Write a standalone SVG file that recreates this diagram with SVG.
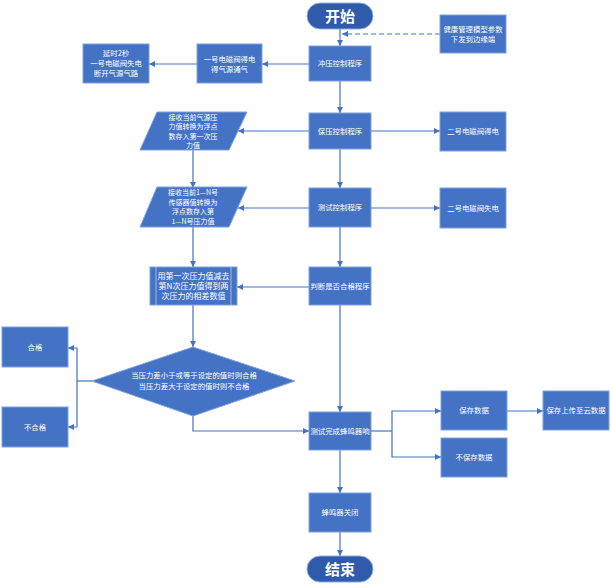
<svg xmlns="http://www.w3.org/2000/svg" width="612" height="585" viewBox="0 0 612 585">
<defs>
<marker id="ah" viewBox="0 0 10 10" refX="10" refY="5" markerWidth="6" markerHeight="6" markerUnits="userSpaceOnUse" orient="auto">
<path d="M0,0 L10,5 L0,10 z" fill="#4472C4"/>
</marker>
</defs>
<style>
.b{fill:#4472C4;stroke:#7fa1dc;stroke-width:1}
.t{fill:#2F5BAA;stroke:#8FAADC;stroke-width:1}
.c{fill:none;stroke:#4472C4;stroke-width:1.2;marker-end:url(#ah)}
.d{stroke-dasharray:5,3}
text{font-family:"Noto Sans CJK SC","Noto Sans",sans-serif;fill:#fff;text-anchor:middle}
.s{font-size:7.4px}
.m{font-size:8px}
.p{font-size:7px}
.L{font-size:15px;font-weight:bold}
</style>
<rect width="612" height="585" fill="#fff"/>
<g id="connectors">
<path class="c d" d="M440,34 H342"/>
<path class="c" d="M340,29 V46"/>
<path class="c" d="M309,64 H262"/>
<path class="c" d="M197,64 H149"/>
<path class="c" d="M340,81 V113"/>
<path class="c" d="M371,131 H440"/>
<path class="c" d="M309,131 H238"/>
<path class="c" d="M193,150 V188"/>
<path class="c" d="M340,149 V188"/>
<path class="c" d="M371,208 H440"/>
<path class="c" d="M309,208 H238"/>
<path class="c" d="M193,227 V267"/>
<path class="c" d="M340,227 V267"/>
<path class="c" d="M309,287 H237"/>
<path class="c" d="M193,305 V347"/>
<path fill="none" stroke="#4472C4" stroke-width="1.2" d="M92,381 H77"/>
<path class="c" d="M77,381 V348 H68"/>
<path class="c" d="M77,381 V427 H68"/>
<path class="c" d="M193,416 V431 H309"/>
<path class="c" d="M340,305 V412"/>
<path fill="none" stroke="#4472C4" stroke-width="1.2" d="M371,431 H392"/>
<path class="c" d="M392,431 V411 H441"/>
<path class="c" d="M392,431 V457 H441"/>
<path class="c" d="M507,411 H543"/>
<path class="c" d="M340,450 V493"/>
<path class="c" d="M340,532 V556"/>
</g>
<g id="start"><rect class="t" x="307" y="3" width="66" height="26" rx="13"/><text class="L" x="340" y="21.5">开始</text></g>
<g id="health"><rect class="b" x="440" y="15" width="66" height="38"/><text class="s" x="473" y="32">健康管理模型参数</text><text class="s" x="473" y="42">下发到边缘端</text></g>
<g id="chongya"><rect class="b" x="309" y="46" width="62" height="35"/><text class="s" x="340" y="66">冲压控制程序</text></g>
<g id="valve1on"><rect class="b" x="197" y="44" width="65" height="39"/><text class="s" x="229.5" y="62">一号电磁阀得电</text><text class="s" x="229.5" y="72">得气源通气</text></g>
<g id="delay"><rect class="b" x="83" y="44" width="66" height="39"/><text class="s" x="116" y="56">延时2秒</text><text class="s" x="116" y="66">一号电磁阀失电</text><text class="s" x="116" y="76">断开气源气路</text></g>
<g id="baoya"><rect class="b" x="309" y="113" width="62" height="36"/><text class="s" x="340" y="133.5">保压控制程序</text></g>
<g id="valve2on"><rect class="b" x="440" y="112" width="66" height="39"/><text class="s" x="473" y="134">二号电磁阀得电</text></g>
<g id="recv1"><polygon class="b" points="157,112 247,112 229,150 140,150"/><text class="p" x="193" y="119.5">接收当前气源压</text><text class="p" x="193" y="129">力值转换为浮点</text><text class="p" x="193" y="138.5">数存入第一次压</text><text class="p" x="193" y="148">力值</text></g>
<g id="ceshi"><rect class="b" x="309" y="188" width="62" height="39"/><text class="s" x="340" y="210">测试控制程序</text></g>
<g id="valve2off"><rect class="b" x="440" y="188" width="66" height="40"/><text class="s" x="473" y="210.5">二号电磁阀失电</text></g>
<g id="recvN"><polygon class="b" points="157,187 247,187 229,227 140,227"/><text class="p" x="193" y="195">接收当前1—N号</text><text class="p" x="193" y="204.5">传感器值转换为</text><text class="p" x="193" y="214">浮点数存入第</text><text class="p" x="193" y="223.5">1—N号压力值</text></g>
<g id="diff"><rect class="b" x="150" y="267" width="87" height="38"/><path d="M156,267 V305 M231,267 V305" stroke="#9fb8e3" stroke-width="1"/><text class="m" x="193.5" y="278.5">用第一次压力值减去</text><text class="m" x="193.5" y="288.5">第N次压力值得到两</text><text class="m" x="193.5" y="298.5">次压力的相差数值</text></g>
<g id="judge"><rect class="b" x="309" y="267" width="62" height="38"/><text class="s" x="340" y="289">判断是否合格程序</text></g>
<g id="decision"><polygon class="b" points="193,347 295,381 193,416 92,381"/><text class="s" x="194" y="378">当压力差小于或等于设定的值时则合格</text><text class="s" x="194" y="389">当压力差大于设定的值时则不合格</text></g>
<g id="pass"><rect class="b" x="2" y="327" width="66" height="40"/><text class="s" x="35" y="349.5">合格</text></g>
<g id="fail"><rect class="b" x="2" y="407" width="66" height="40"/><text class="s" x="35" y="429.5">不合格</text></g>
<g id="done"><rect class="b" x="309" y="412" width="62" height="38"/><text class="s" x="340" y="433.5">测试完成蜂鸣器响</text></g>
<g id="save"><rect class="b" x="441" y="391" width="66" height="39"/><text class="s" x="474" y="413">保存数据</text></g>
<g id="nosave"><rect class="b" x="441" y="438" width="66" height="39"/><text class="s" x="474" y="460">不保存数据</text></g>
<g id="cloud"><rect class="b" x="543" y="391" width="66" height="39"/><text class="s" x="576" y="413">保存上传至云数据</text></g>
<g id="buzzoff"><rect class="b" x="309" y="493" width="62" height="39"/><text class="s" x="340" y="515">蜂鸣器关闭</text></g>
<g id="end"><rect class="t" x="307" y="556" width="66" height="26" rx="13"/><text class="L" x="340" y="574.5">结束</text></g>
</svg>
